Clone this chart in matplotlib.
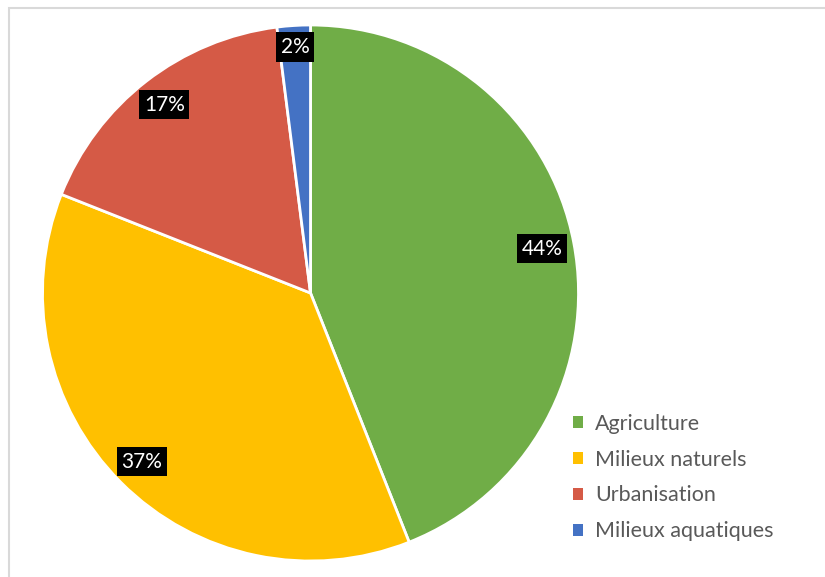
import matplotlib
matplotlib.use("Agg")
import matplotlib.pyplot as plt
from matplotlib.patches import Patch
import numpy as np

categories = ["Agriculture", "Milieux naturels", "Urbanisation", "Milieux aquatiques"]
values = [44, 37, 17, 2]
colors = ["#70AD47", "#FFC000", "#D55A46", "#4472C4"]
label_dist = [0.88, 0.89, 0.89, 0.92]

W, H = 825, 577
fig = plt.figure(figsize=(W / 100, H / 100), dpi=100)
ax = fig.add_axes([0, 0, 1, 1])
ax.set_xlim(0, W)
ax.set_ylim(0, H)
ax.axis("off")

cx, cy, R = 310.5, H - 293, 268
wedges, _ = ax.pie(values, colors=colors, startangle=90, counterclock=False,
                   center=(cx, cy), radius=R,
                   wedgeprops=dict(edgecolor="white", linewidth=2))
ax.set_xlim(0, W)
ax.set_ylim(0, H)
ax.set_aspect("auto")

# percentage labels on black boxes
total = sum(values)
start = 90.0
for v, d in zip(values, label_dist):
    sweep = 360.0 * v / total
    mid = np.deg2rad(start - sweep / 2)
    start -= sweep
    x = cx + d * R * np.cos(mid)
    y = cy + d * R * np.sin(mid)
    ax.text(x, y, f"{v}%", ha="center", va="center", color="white",
            fontsize=15, family="Lato",
            bbox=dict(boxstyle="square,pad=0.22", fc="black", ec="none"))

# chart frame
ax.plot([9, 9, W + 5], [-5, H - 8, H - 8], color="#D9D9D9", lw=1.5,
        clip_on=False, solid_joinstyle="miter")

handles = [Patch(facecolor=c, edgecolor="none") for c in colors]
leg = ax.legend(handles, categories, loc="upper left",
                bbox_to_anchor=(564 / W, 1 - 405 / H), frameon=False,
                prop=dict(family="Lato", size=15.5), labelcolor="#595959",
                handlelength=0.5, handleheight=0.5, handletextpad=0.55,
                labelspacing=0.74, borderaxespad=0)

fig.savefig("out.png", dpi=100)
